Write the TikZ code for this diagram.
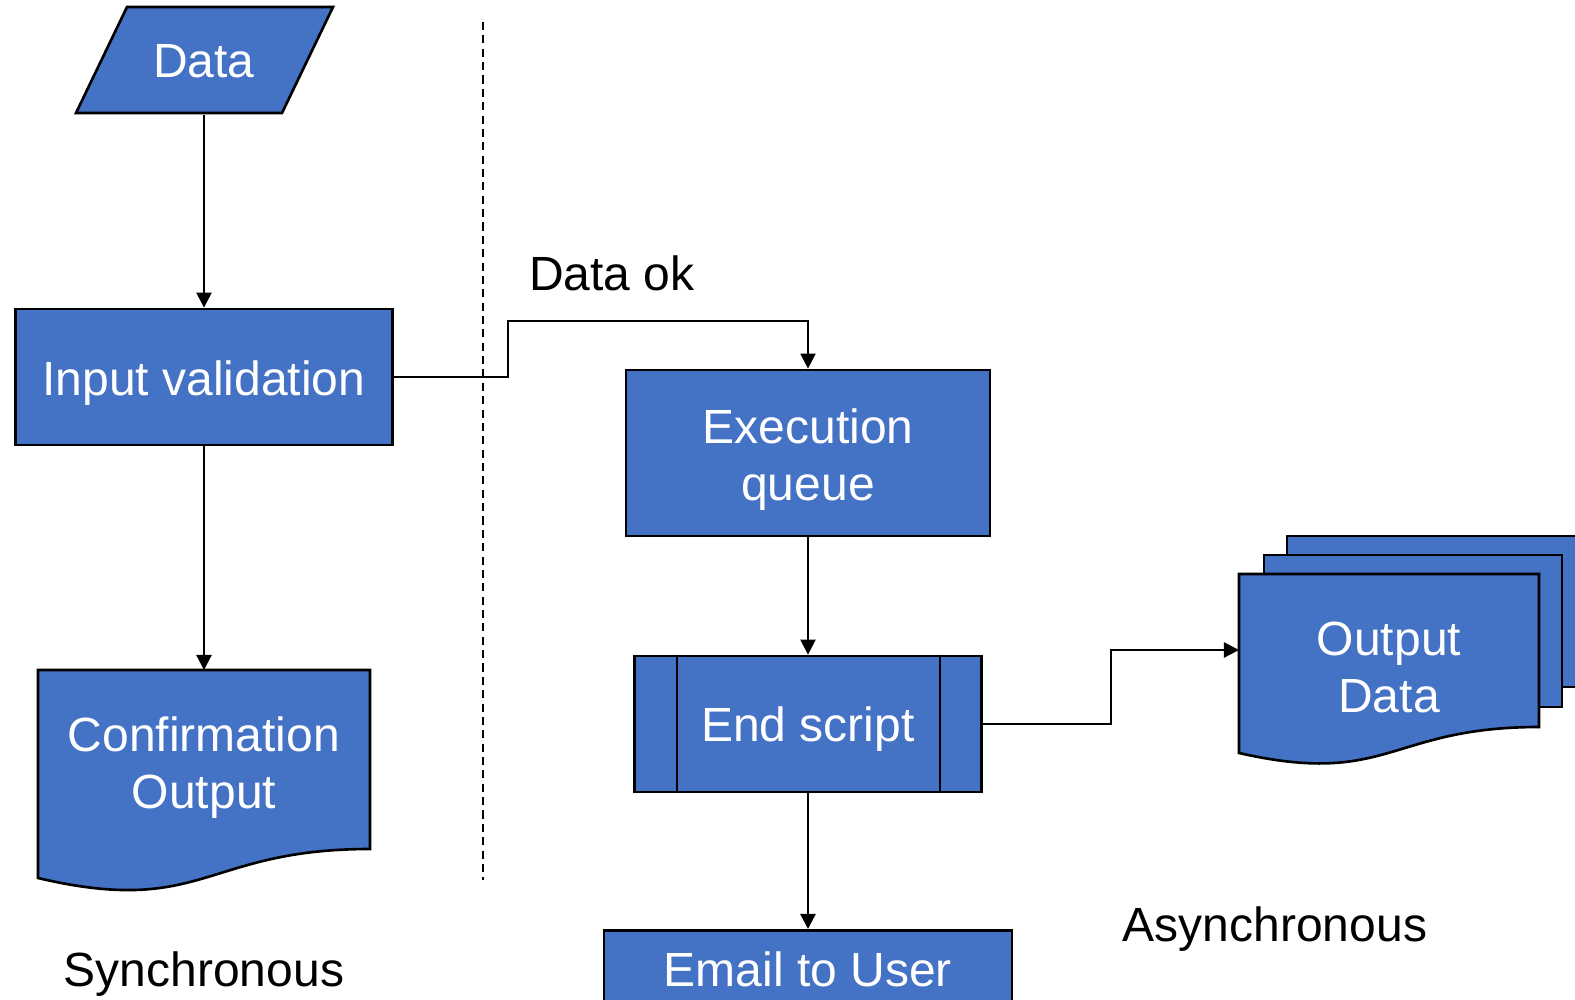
\documentclass[tikz,border=0pt]{standalone}
\usepackage{fontspec}
\setmainfont{Liberation Sans}
\usetikzlibrary{arrows.meta}
\definecolor{fcblue}{HTML}{4472C4}
\begin{document}
\begin{tikzpicture}[x=0.01cm,y=-0.01cm,
  shp/.style={fill=fcblue,draw=black,line width=0.75pt},
  boxnode/.style={shp,rectangle,inner sep=0pt},
  wtxt/.style={text=white,font=\fontsize{13.65}{16.2}\selectfont,align=center,inner sep=0pt},
  btxt/.style={text=black,font=\fontsize{13.65}{16.2}\selectfont,inner sep=0pt},
  conn/.style={draw=black,line width=0.65pt},
  arr/.style={conn,-{Triangle[length=4.3pt,width=4.3pt]}},
]
\useasboundingbox (0,0) rectangle (1575,1000);
\clip (0,0) rectangle (1575,1000);

% Data (parallelogram)
\filldraw[shp] (127,7) -- (333,7) -- (282,113) -- (76,113) -- cycle;
\node[wtxt, minimum height=1.06cm] (data) at (204,61) {Data};

% Input validation
\node[boxnode, minimum width=3.77cm, minimum height=1.36cm] (inval) at (204,377) {};
\node[wtxt] (invaltxt) at ([yshift=-0.06cm]inval.center) {Input validation};
\draw[arr] (data.south) -- (inval.north);

% Confirmation Output (document)
\filldraw[shp] (38,670) -- (370,670) -- (370,849) .. controls (204,849) and (204,917) .. (38,878) -- cycle;
\node[wtxt] (confirm) at (204,768) {Confirmation\\Output};
\coordinate (confirmtop) at (204,670);
\draw[arr] (inval.south) -- (confirmtop);

% dashed divider
\coordinate (dtop) at (483,22);
\coordinate (dbot) at (483,880);
\draw[conn, dash pattern=on 2.3pt off 1.5pt] (dtop) -- (dbot);

% Execution queue
\node[boxnode, minimum width=3.64cm, minimum height=1.66cm] (exq) at (808,453) {};
\node[wtxt] (exqtxt) at ([yshift=-0.065cm]exq.center) {Execution\\queue};
\draw[arr] (inval.east) -| (508,321) -| (exq.north);
\node[btxt, anchor=base] (dataok) at (612,290) {Data ok};

% End script (predefined process)
\node[boxnode, minimum width=3.47cm, minimum height=1.36cm] (endscript) at (808,724) {};
\node[wtxt] (endtxt) at ([yshift=-0.05cm]endscript.center) {End script};
\draw[line width=0.75pt] ([xshift=0.44cm]endscript.north west) -- ([xshift=0.44cm]endscript.south west);
\draw[line width=0.75pt] ([xshift=-0.43cm]endscript.north east) -- ([xshift=-0.43cm]endscript.south east);
\draw[arr] (exq.south) -- (endscript.north);

% Email to User
\node[boxnode, minimum width=4.08cm, minimum height=1.2cm, anchor=north] (email) at (808,929) {};
\node[wtxt, anchor=base] (emailtxt) at (808,986) {Email to User};
\draw[arr] (endscript.south) -- (email.north);

% Output Data (multi-document)
\filldraw[shp] (1287,536) rectangle (1600,687);
\filldraw[shp] (1264,555) rectangle (1562,707);
\filldraw[shp] (1239,574) -- (1539,574) -- (1539,727) .. controls (1389,727) and (1389,787) .. (1239,753) -- cycle;
\node[wtxt] (outdoc) at (1389,667) {Output\\Data};
\coordinate (outin) at (1239,650);
\draw[arr] (endscript.east) -| (1111,650) -- (outin);

% labels
\node[btxt, anchor=base] (sync) at (204,986) {Synchronous};
\node[btxt, anchor=base] (async) at (1275,941) {Asynchronous};
\end{tikzpicture}
\end{document}
